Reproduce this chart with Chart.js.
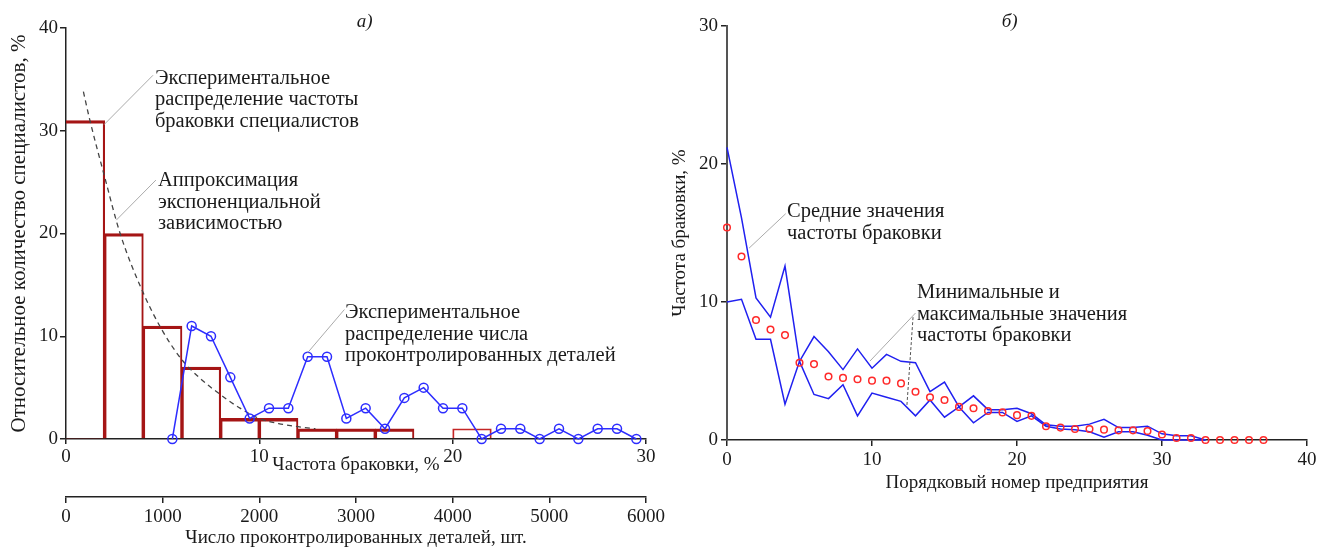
<!DOCTYPE html>
<html>
<head>
<meta charset="utf-8">
<script src="https://cdn.jsdelivr.net/npm/chart.js@4.4.1/dist/chart.umd.min.js"></script>
<style>
  html, body { margin: 0; padding: 0; background: #fff; }
  #wrap { position: relative; width: 1323px; height: 549px; overflow: hidden; background: #fff; }
  #left { position: absolute; left: 0; top: 0; }
  #right { position: absolute; left: 660px; top: 0; }
</style>
</head>
<body>
<div id="wrap">
  <canvas id="left" width="680" height="549"></canvas>
  <canvas id="right" width="663" height="549"></canvas>
</div>
<script>
// а) распределение частоты браковки специалистов, классы по 2 %
const binCenters = [1, 3, 5, 7, 9, 11, 13, 15, 17, 21];
const binShares = [31, 20, 11, 7, 2, 2, 1, 1, 1, 1];

const approxX = [0.9, 1.2, 2, 2.8, 4, 5, 6, 7, 8, 9, 10, 11, 12, 12.9];
const approxY = [33.8, 31.3, 25.5, 20, 14.2, 10.5, 7.7, 5.8, 4.3, 3.0, 2.0, 1.5, 1.2, 1.0];

// распределение числа проконтролированных деталей, шт.
const partsX = [1100, 1300, 1500, 1700, 1900, 2100, 2300, 2500, 2700, 2900, 3100, 3300, 3500,
  3700, 3900, 4100, 4300, 4500, 4700, 4900, 5100, 5300, 5500, 5700, 5900];
const partsShare = [0, 11, 10, 6, 2, 3, 3, 8, 8, 2, 3, 1, 4, 5, 3, 3, 0, 1, 1, 0, 1, 0, 1, 1, 0];

// б) по предприятиям
const plantNo = [0, 1, 2, 3, 4, 5, 6, 7, 8, 9, 10, 11, 12, 13, 14, 15, 16, 17, 18, 19,
  20, 21, 22, 23, 24, 25, 26, 27, 28, 29, 30, 31, 32, 33, 34, 35, 36, 37];
const meanRate = [15.4, 13.3, 8.7, 8.0, 7.6, 5.6, 5.5, 4.6, 4.5, 4.4, 4.3, 4.3, 4.1, 3.5, 3.1, 2.9,
  2.4, 2.3, 2.1, 2.0, 1.8, 1.75, 1.0, 0.9, 0.8, 0.8, 0.75, 0.7, 0.7, 0.65, 0.4, 0.15, 0.15,
  0, 0, 0, 0, 0];
const maxRate = [21.2, 16.1, 10.3, 8.9, 12.6, 5.7, 7.5, 6.4, 5.1, 6.6, 5.2, 6.2, 5.7, 5.6, 3.5, 4.2,
  2.4, 3.2, 2.2, 2.2, 2.3, 1.9, 1.1, 1.0, 1.0, 1.15, 1.5, 0.9, 0.9, 1.0, 0.45, 0.3, 0.3, 0];
const minRate = [10.0, 10.2, 7.3, 7.3, 2.6, 5.7, 3.3, 3.0, 4.0, 1.75, 3.4, 3.1, 2.8, 1.75, 2.9, 1.65,
  2.4, 1.25, 2.0, 2.0, 1.35, 1.75, 1.0, 0.8, 0.75, 0.6, 0.2, 0.6, 0.6, 0.35, 0, 0, 0, 0];

const SERIF = '"Liberation Serif", "DejaVu Serif", serif';
const INK = '#1a1a1a';
Chart.defaults.font.family = SERIF;
Chart.defaults.font.size = 19;
Chart.defaults.color = INK;

const pts = (xs, ys) => xs.map((x, i) => ({ x: x, y: ys[i] }));

// подписи с выносками, координаты в единицах осей
function makeNotes(cfg) {
  return {
    id: 'notes',
    afterDatasetsDraw(chart) {
      const ctx = chart.ctx;
      const ys = chart.scales.y;
      const xs = chart.scales.x;
      ctx.save();
      cfg.leaders.forEach(l => {
        ctx.beginPath();
        ctx.strokeStyle = l.color || '#aaa';
        ctx.lineWidth = 1;
        ctx.setLineDash(l.dash || []);
        ctx.moveTo(xs.getPixelForValue(l.from[0]), ys.getPixelForValue(l.from[1]));
        ctx.lineTo(xs.getPixelForValue(l.to[0]), ys.getPixelForValue(l.to[1]));
        ctx.stroke();
      });
      ctx.setLineDash([]);
      ctx.fillStyle = INK;
      ctx.textBaseline = 'middle';
      ctx.textAlign = 'left';
      ctx.font = '20.5px ' + SERIF;
      cfg.labels.forEach(n => {
        const x0 = xs.getPixelForValue(n.at[0]);
        const y0 = ys.getPixelForValue(n.at[1]);
        n.lines.forEach((t, i) => ctx.fillText(t, x0, y0 + i * 21.5));
      });
      ctx.font = 'italic 19px ' + SERIF;
      ctx.textAlign = 'center';
      ctx.fillText(cfg.panel.text, xs.getPixelForValue(cfg.panel.at[0]), ys.getPixelForValue(cfg.panel.at[1]));
      ctx.restore();
    }
  };
}

function axisLine() {
  return { display: true, color: '#222', width: 1.5 };
}
function tickMarks(len) {
  return { drawOnChartArea: false, drawTicks: true, tickLength: len, color: '#222', lineWidth: 1.5, offset: false };
}

// ---------- а) ----------
const lastBin = binCenters.length - 1;
function binBorder(c) {
  if (c.dataIndex === lastBin) return { top: 1.3, left: 1.2, right: 1.2, bottom: 0 };
  // первый класс прилегает к оси ординат
  return { top: 2.6, left: c.dataIndex === 0 ? 0 : 1.4, right: 1.4, bottom: 0 };
}

new Chart(document.getElementById('left'), {
  type: 'bar',
  data: {
    datasets: [
      {
        type: 'line',
        xAxisID: 'x2',
        data: pts(partsX, partsShare),
        borderColor: '#2d2dff',
        borderWidth: 1.5,
        pointRadius: 4.5,
        pointBorderWidth: 1.5,
        pointBorderColor: '#2d2dff',
        pointBackgroundColor: 'rgba(255,255,255,0)',
        clip: false,
        order: 1
      },
      {
        type: 'line',
        data: pts(approxX, approxY),
        borderColor: '#444',
        borderWidth: 1.3,
        borderDash: [5, 4],
        pointRadius: 0,
        cubicInterpolationMode: 'monotone',
        order: 2
      },
      {
        type: 'bar',
        data: pts(binCenters, binShares),
        backgroundColor: 'rgba(255,255,255,0)',
        borderColor: c => c.dataIndex === lastBin ? '#c42626' : '#a51515',
        borderWidth: binBorder,
        grouped: false,
        barPercentage: 1,
        categoryPercentage: 1,
        order: 3
      }
    ]
  },
  options: {
    responsive: false,
    animation: false,
    layout: { padding: { top: 28, right: 34, left: 0, bottom: 0 } },
    plugins: { legend: { display: false }, tooltip: { enabled: false } },
    scales: {
      x: {
        type: 'linear', position: 'bottom', weight: 0, offset: false,
        min: 0, max: 30,
        ticks: { stepSize: 10, padding: 2, maxRotation: 0 },
        border: axisLine(),
        grid: tickMarks(5),
        title: { display: true, text: 'Частота браковки, %', padding: { top: 0, bottom: 21 } },
        afterFit: s => { s.height = 58; }
      },
      x2: {
        type: 'linear', position: 'bottom', weight: 1, offset: false,
        min: 0, max: 6000,
        ticks: { stepSize: 1000, padding: 3, maxRotation: 0, callback: v => String(v) },
        border: axisLine(),
        grid: tickMarks(6),
        title: { display: true, text: 'Число проконтролированных деталей, шт.', padding: { top: 0, bottom: 0 } },
        afterFit: s => { s.height = 52; }
      },
      y: {
        min: 0, max: 40,
        ticks: { stepSize: 10, padding: 2 },
        border: axisLine(),
        grid: tickMarks(6),
        title: {
          display: true, text: 'Относительное количество специалистов, %',
          font: { size: 21 }, padding: { top: 7, bottom: 0 }
        },
        afterFit: s => { s.width = 66; }
      }
    }
  },
  plugins: [makeNotes({
    panel: { text: 'а)', at: [15.45, 40.6] },
    labels: [
      { at: [4.6, 35.1], lines: ['Экспериментальное', 'распределение частоты', 'браковки специалистов'] },
      { at: [4.76, 25.1], lines: ['Аппроксимация', 'экспоненциальной', 'зависимостью'] },
      { at: [14.43, 12.26], lines: ['Экспериментальное', 'распределение числа', 'проконтролированных деталей'] }
    ],
    leaders: [
      { from: [1.97, 30.6], to: [4.5, 35.4] },
      { from: [2.6, 21.3], to: [4.65, 25.2] },
      { from: [12.5, 8.4], to: [14.4, 12.6] }
    ]
  })]
});

// ---------- б) ----------
new Chart(document.getElementById('right'), {
  type: 'line',
  data: {
    datasets: [
      {
        data: pts(plantNo, meanRate),
        showLine: false,
        pointRadius: 3.3,
        pointBorderWidth: 1.5,
        pointBorderColor: '#ff2a2a',
        pointBackgroundColor: 'rgba(255,255,255,0)',
        clip: false,
        order: 1
      },
      {
        data: pts(plantNo, maxRate),
        borderColor: '#2020f0',
        borderWidth: 1.5,
        pointRadius: 0,
        clip: false,
        order: 2
      },
      {
        data: pts(plantNo, minRate),
        borderColor: '#2020f0',
        borderWidth: 1.5,
        pointRadius: 0,
        clip: false,
        order: 3
      }
    ]
  },
  options: {
    responsive: false,
    animation: false,
    layout: { padding: { top: 26, right: 16, left: 0, bottom: 0 } },
    plugins: { legend: { display: false }, tooltip: { enabled: false } },
    scales: {
      x: {
        type: 'linear', min: 0, max: 40,
        ticks: { stepSize: 10, padding: 3, maxRotation: 0 },
        border: axisLine(),
        grid: tickMarks(6),
        title: { display: true, text: 'Порядковый номер предприятия', padding: { top: 0, bottom: 55 } },
        afterFit: s => { s.height = 109; }
      },
      y: {
        min: 0, max: 30,
        ticks: { stepSize: 10, padding: 3 },
        border: { display: true, color: '#555', width: 2 },
        grid: tickMarks(6),
        title: { display: true, text: 'Частота браковки, %', padding: { top: 9, bottom: 0 } },
        afterFit: s => { s.width = 67; }
      }
    }
  },
  plugins: [makeNotes({
    panel: { text: 'б)', at: [19.5, 30.3] },
    labels: [
      { at: [4.14, 16.52], lines: ['Средние значения', 'частоты браковки'] },
      { at: [13.1, 10.65], lines: ['Минимальные и', 'максимальные значения', 'частоты браковки'] }
    ],
    leaders: [
      { from: [1.52, 13.9], to: [4.05, 16.4] },
      { from: [9.86, 5.72], to: [13.0, 9.2] },
      { from: [12.41, 2.54], to: [12.83, 8.9], color: '#555', dash: [3, 2] }
    ]
  })]
});
</script>
</body>
</html>
